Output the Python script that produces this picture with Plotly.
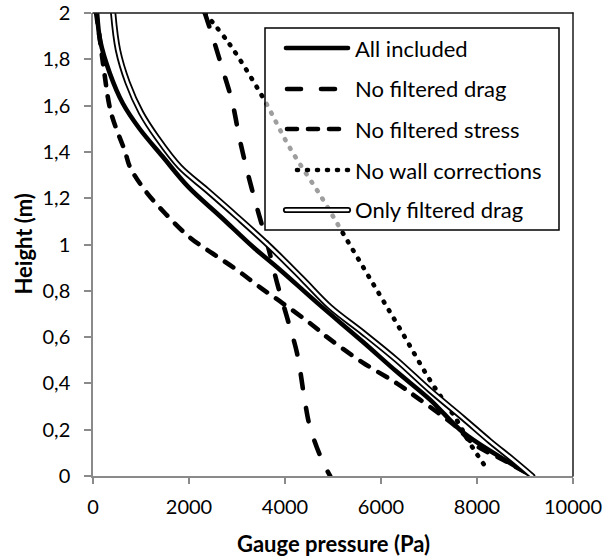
import plotly.graph_objects as go

# ---- pressure profiles: gauge pressure (Pa) against height (m) ----
all_p = [85, 150, 350, 620, 970, 1450, 1980, 2660, 3330, 3900, 4660, 5620, 6330, 7020, 7700, 8420, 9150]
all_h = [2.00, 1.88, 1.74, 1.61, 1.50, 1.38, 1.25, 1.12, 0.99, 0.89, 0.75, 0.58, 0.45, 0.33, 0.19, 0.09, 0.00]

nodrag_p = [2330, 2480, 2690, 2900, 3060, 3250, 3460, 3650, 3830, 4040, 4250, 4420, 4520, 4770, 4940]
nodrag_h = [2.00, 1.905, 1.763, 1.616, 1.451, 1.287, 1.127, 0.989, 0.838, 0.687, 0.531, 0.315, 0.212, 0.069, 0.00]

nostress_p = [65, 150, 230, 375, 670, 770, 1080, 1500, 2020, 2500, 3000, 3480, 3960, 4520, 4940,
              5620, 6330, 6810, 7580, 7920, 8540, 9150]
nostress_h = [2.00, 1.875, 1.75, 1.57, 1.40, 1.335, 1.235, 1.135, 1.03, 0.96, 0.89, 0.815, 0.745, 0.66, 0.59,
              0.49, 0.40, 0.33, 0.21, 0.14, 0.07, 0.00]

nowall_p = [2330, 2850, 3540, 4100, 4770, 5330, 5900, 6460, 7020, 7580, 7850, 8210]
nowall_h = [2.00, 1.864, 1.635, 1.418, 1.201, 1.006, 0.808, 0.613, 0.414, 0.241, 0.142, 0.03]

onlydrag_p = [420, 520, 720, 1000, 1340, 1810, 2370, 3000, 3690, 4370, 4940, 5620, 6330, 7020, 7710, 8270, 8750, 9150]
onlydrag_h = [2.00, 1.84, 1.70, 1.57, 1.46, 1.335, 1.235, 1.12, 0.99, 0.85, 0.73, 0.62, 0.50, 0.37, 0.25, 0.15, 0.07, 0.00]

series_names = ["All included", "No filtered drag", "No filtered stress",
                "No wall corrections", "Only filtered drag"]

x_tickvals = [0, 2000, 4000, 6000, 8000, 10000]
x_ticktext = ["0", "2000", "4000", "6000", "8000", "10000"]
y_tickvals = [0, 0.2, 0.4, 0.6, 0.8, 1.0, 1.2, 1.4, 1.6, 1.8, 2.0]
y_ticktext = ["0", "0,2", "0,4", "0,6", "0,8", "1", "1,2", "1,4", "1,6", "1,8", "2"]

FONT = "Lato"
W, H = 605, 558
ML, MR, MT, MB = 93, 32, 13, 82
PW, PH = W - ML - MR, H - MT - MB

DASH_DRAG = "14px,20px"
DASH_STRESS = "10px,11px"
DASH_DOT = "1px,9px"


def px_x(v):
    return (v - ML) / PW


def px_y(v):
    return (H - MB - v) / PH


def curve(line_kw):
    d = dict(shape="spline", smoothing=1.0)
    d.update(line_kw)
    return d


fig = go.Figure()
common = dict(mode="lines", showlegend=False, hoverinfo="skip")

fig.add_trace(go.Scatter(x=all_p, y=all_h, name=series_names[0],
                         line=curve(dict(color="black", width=4.6)), **common))
fig.add_trace(go.Scatter(x=nodrag_p, y=nodrag_h, name=series_names[1],
                         line=curve(dict(color="black", width=4.6, dash=DASH_DRAG)), **common))
fig.add_trace(go.Scatter(x=nostress_p, y=nostress_h, name=series_names[2],
                         line=curve(dict(color="black", width=4.6, dash=DASH_STRESS)), **common))
fig.add_trace(go.Scatter(x=nowall_p, y=nowall_h, name=series_names[3],
                         line=curve(dict(color="black", width=4.6, dash=DASH_DOT)), **common))
# double line: black outline with a white core
fig.add_trace(go.Scatter(x=onlydrag_p, y=onlydrag_h, name=series_names[4],
                         line=curve(dict(color="black", width=6.2)), **common))
fig.add_trace(go.Scatter(x=onlydrag_p, y=onlydrag_h, name=series_names[4] + " core",
                         line=curve(dict(color="white", width=2.6)), **common))

shapes = [
    # top and right frame of the plot area
    dict(type="line", xref="paper", yref="paper", x0=0, x1=1, y0=1, y1=1,
         line=dict(color="#1a1a1a", width=1.5), layer="above"),
    dict(type="line", xref="paper", yref="paper", x0=1, x1=1, y0=0, y1=1,
         line=dict(color="#1a1a1a", width=1.5), layer="above"),
    # legend box, translucent white
    dict(type="rect", xref="paper", yref="paper",
         x0=px_x(265), x1=px_x(559), y0=px_y(230), y1=px_y(28),
         fillcolor="rgba(255,255,255,0.62)", line=dict(color="black", width=1.5), layer="above"),
]

rows = [48, 89, 129, 170, 210]
sample_x = [(286, 348), (287, 348), (287, 348), (297, 348), (286, 348)]
styles = [
    [dict(color="black", width=4.6)],
    [dict(color="black", width=4.6, dash=DASH_DRAG)],
    [dict(color="black", width=4.6, dash=DASH_STRESS)],
    [dict(color="black", width=4.6, dash=DASH_DOT)],
    [dict(color="black", width=6.2), dict(color="white", width=2.6)],
]
for r, (a, b), st in zip(rows, sample_x, styles):
    for ln in st:
        shapes.append(dict(type="line", xref="paper", yref="paper",
                           x0=px_x(a), x1=px_x(b), y0=px_y(r), y1=px_y(r), line=ln, layer="above"))

annotations = []
for r, name in zip(rows, series_names):
    annotations.append(dict(x=px_x(353), y=px_y(r), xref="paper", yref="paper", text=name,
                            showarrow=False, xanchor="left", yanchor="middle",
                            font=dict(family=FONT, size=22, color="black")))

annotations.append(dict(x=0.5, y=px_y(543), xref="paper", yref="paper",
                        text="<b>Gauge pressure (Pa)</b>", showarrow=False,
                        xanchor="center", yanchor="middle",
                        font=dict(family=FONT, size=22, color="black")))
annotations.append(dict(x=px_x(23), y=0.5, xref="paper", yref="paper",
                        text="<b>Height (m)</b>", showarrow=False, textangle=-90,
                        xanchor="center", yanchor="middle",
                        font=dict(family=FONT, size=22, color="black")))

axis_common = dict(showgrid=False, zeroline=False, showline=True, linecolor="#8a8a8a", linewidth=1.5,
                   ticks="outside", tickcolor="#8a8a8a", tickwidth=1.5, automargin=False,
                   tickfont=dict(family=FONT, size=20, color="black"))

fig.update_layout(
    width=W, height=H,
    margin=dict(l=ML, r=MR, t=MT, b=MB, autoexpand=False),
    paper_bgcolor="white", plot_bgcolor="white",
    xaxis=dict(range=[0, 10000], tickvals=x_tickvals, ticktext=x_ticktext, ticklen=6,
               ticklabelstandoff=6, **axis_common),
    yaxis=dict(range=[0, 2], tickvals=y_tickvals, ticktext=y_ticktext, ticklen=7,
               ticklabelstandoff=10, **axis_common),
    shapes=shapes,
    annotations=annotations,
)

round_caps = (
    "document.querySelectorAll('.scatterlayer path.js-line, .shapelayer path')"
    ".forEach(function(p){p.style.strokeLinecap='round';});"
)

fig.write_html("out.html", post_script=round_caps)
